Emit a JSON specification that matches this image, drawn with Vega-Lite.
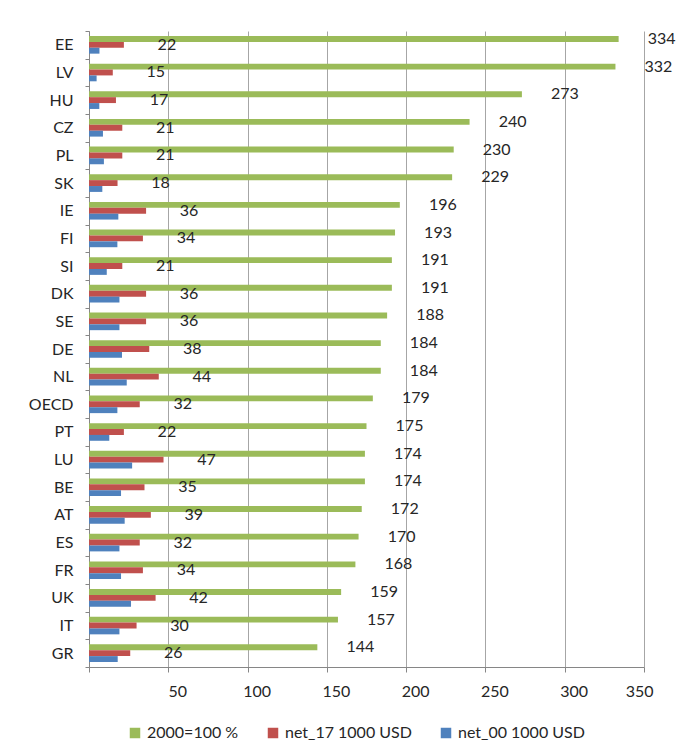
{
  "$schema": "https://vega.github.io/schema/vega-lite/v6.json",
  "width": 555,
  "height": 636,
  "autosize": {"type": "none"},
  "padding": {"left": 89, "top": 31, "right": 41, "bottom": 86},
  "background": "white",
  "config": {
    "font": "Lato",
    "view": {"stroke": null},
    "axis": {"labelFont": "Lato", "labelFontSize": 16, "labelColor": "#262626"},
    "legend": {"labelFont": "Lato", "labelFontSize": 16, "labelColor": "#262626"}
  },
  "data": {
    "values": [
      {"country": "EE", "series": "2000=100 %", "value": 334},
      {"country": "EE", "series": "net_17 1000 USD", "value": 22},
      {"country": "EE", "series": "net_00 1000 USD", "value": 6.6},
      {"country": "LV", "series": "2000=100 %", "value": 332},
      {"country": "LV", "series": "net_17 1000 USD", "value": 15},
      {"country": "LV", "series": "net_00 1000 USD", "value": 4.8},
      {"country": "HU", "series": "2000=100 %", "value": 273},
      {"country": "HU", "series": "net_17 1000 USD", "value": 17},
      {"country": "HU", "series": "net_00 1000 USD", "value": 6.5},
      {"country": "CZ", "series": "2000=100 %", "value": 240},
      {"country": "CZ", "series": "net_17 1000 USD", "value": 21},
      {"country": "CZ", "series": "net_00 1000 USD", "value": 8.8},
      {"country": "PL", "series": "2000=100 %", "value": 230},
      {"country": "PL", "series": "net_17 1000 USD", "value": 21},
      {"country": "PL", "series": "net_00 1000 USD", "value": 9.4},
      {"country": "SK", "series": "2000=100 %", "value": 229},
      {"country": "SK", "series": "net_17 1000 USD", "value": 18},
      {"country": "SK", "series": "net_00 1000 USD", "value": 8.4},
      {"country": "IE", "series": "2000=100 %", "value": 196},
      {"country": "IE", "series": "net_17 1000 USD", "value": 36},
      {"country": "IE", "series": "net_00 1000 USD", "value": 18.5},
      {"country": "FI", "series": "2000=100 %", "value": 193},
      {"country": "FI", "series": "net_17 1000 USD", "value": 34},
      {"country": "FI", "series": "net_00 1000 USD", "value": 17.9},
      {"country": "SI", "series": "2000=100 %", "value": 191},
      {"country": "SI", "series": "net_17 1000 USD", "value": 21},
      {"country": "SI", "series": "net_00 1000 USD", "value": 11.2},
      {"country": "DK", "series": "2000=100 %", "value": 191},
      {"country": "DK", "series": "net_17 1000 USD", "value": 36},
      {"country": "DK", "series": "net_00 1000 USD", "value": 19.2},
      {"country": "SE", "series": "2000=100 %", "value": 188},
      {"country": "SE", "series": "net_17 1000 USD", "value": 36},
      {"country": "SE", "series": "net_00 1000 USD", "value": 19.2},
      {"country": "DE", "series": "2000=100 %", "value": 184},
      {"country": "DE", "series": "net_17 1000 USD", "value": 38},
      {"country": "DE", "series": "net_00 1000 USD", "value": 20.8},
      {"country": "NL", "series": "2000=100 %", "value": 184},
      {"country": "NL", "series": "net_17 1000 USD", "value": 44},
      {"country": "NL", "series": "net_00 1000 USD", "value": 23.8},
      {"country": "OECD", "series": "2000=100 %", "value": 179},
      {"country": "OECD", "series": "net_17 1000 USD", "value": 32},
      {"country": "OECD", "series": "net_00 1000 USD", "value": 17.9},
      {"country": "PT", "series": "2000=100 %", "value": 175},
      {"country": "PT", "series": "net_17 1000 USD", "value": 22},
      {"country": "PT", "series": "net_00 1000 USD", "value": 12.8},
      {"country": "LU", "series": "2000=100 %", "value": 174},
      {"country": "LU", "series": "net_17 1000 USD", "value": 47},
      {"country": "LU", "series": "net_00 1000 USD", "value": 27.2},
      {"country": "BE", "series": "2000=100 %", "value": 174},
      {"country": "BE", "series": "net_17 1000 USD", "value": 35},
      {"country": "BE", "series": "net_00 1000 USD", "value": 20.2},
      {"country": "AT", "series": "2000=100 %", "value": 172},
      {"country": "AT", "series": "net_17 1000 USD", "value": 39},
      {"country": "AT", "series": "net_00 1000 USD", "value": 22.5},
      {"country": "ES", "series": "2000=100 %", "value": 170},
      {"country": "ES", "series": "net_17 1000 USD", "value": 32},
      {"country": "ES", "series": "net_00 1000 USD", "value": 19.2},
      {"country": "FR", "series": "2000=100 %", "value": 168},
      {"country": "FR", "series": "net_17 1000 USD", "value": 34},
      {"country": "FR", "series": "net_00 1000 USD", "value": 20.2},
      {"country": "UK", "series": "2000=100 %", "value": 159},
      {"country": "UK", "series": "net_17 1000 USD", "value": 42},
      {"country": "UK", "series": "net_00 1000 USD", "value": 26.5},
      {"country": "IT", "series": "2000=100 %", "value": 157},
      {"country": "IT", "series": "net_17 1000 USD", "value": 30},
      {"country": "IT", "series": "net_00 1000 USD", "value": 19.2},
      {"country": "GR", "series": "2000=100 %", "value": 144},
      {"country": "GR", "series": "net_17 1000 USD", "value": 26},
      {"country": "GR", "series": "net_00 1000 USD", "value": 18.1}
    ]
  },
  "encoding": {
    "y": {
      "field": "country",
      "type": "nominal",
      "sort": null,
      "scale": {"paddingInner": 0, "paddingOuter": 0},
      "axis": {
        "title": null,
        "tickBand": "extent",
        "tickSize": 4,
        "labelPadding": 12,
        "domainColor": "#868686",
        "tickColor": "#868686",
        "grid": false
      }
    },
    "yOffset": {
      "field": "series",
      "type": "nominal",
      "sort": ["2000=100 %", "net_17 1000 USD", "net_00 1000 USD"],
      "scale": {"paddingInner": 0, "paddingOuter": 0.85}
    },
    "x": {
      "field": "value",
      "type": "quantitative",
      "scale": {"domain": [0, 350], "nice": false},
      "axis": {
        "title": null,
        "values": [0, 50, 100, 150, 200, 250, 300, 350],
        "grid": true,
        "gridColor": "#a6a6a6",
        "domainColor": "#868686",
        "tickColor": "#868686",
        "tickSize": 5,
        "labelOffset": 9,
        "labelPadding": 11,
        "labelExpr": "datum.value == 0 ? '' : datum.label"
      }
    }
  },
  "layer": [
    {
      "mark": {"type": "bar"},
      "encoding": {
        "color": {
          "field": "series",
          "type": "nominal",
          "sort": ["2000=100 %", "net_17 1000 USD", "net_00 1000 USD"],
          "scale": {
            "domain": ["2000=100 %", "net_17 1000 USD", "net_00 1000 USD"],
            "range": ["#9BBB59", "#C0504D", "#4F81BD"]
          },
          "legend": {
            "title": null,
            "orient": "none",
            "legendX": 38,
            "legendY": 694,
            "direction": "horizontal",
            "symbolType": "square",
            "symbolSize": 110,
            "symbolStrokeWidth": 0,
            "labelOffset": 4,
            "columnPadding": 26
          }
        }
      }
    },
    {
      "transform": [{"filter": "datum.series != 'net_00 1000 USD'"}],
      "mark": {"type": "text", "align": "center", "baseline": "middle", "dx": 43, "fontSize": 16, "color": "#262626"},
      "encoding": {
        "text": {"field": "value", "type": "quantitative"}
      }
    }
  ]
}
